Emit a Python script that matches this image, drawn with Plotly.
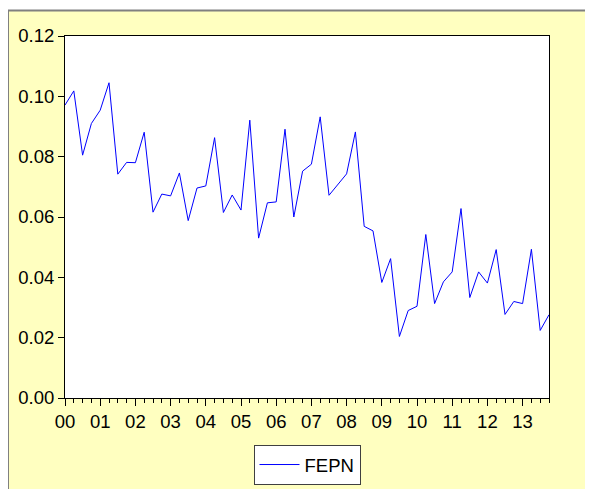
import plotly.graph_objects as go

years = list(range(2000, 2014))
quarters = [f"{y}Q{q}" for y in years for q in range(1, 5)]
year_labels = [f"{y % 100:02d}" for y in years]

fepn = [0.0971, 0.1018, 0.0805, 0.0910, 0.0954, 0.1045, 0.0742, 0.0781,
        0.0780, 0.0881, 0.0616, 0.0676, 0.0670, 0.0746, 0.0588, 0.0696,
        0.0703, 0.0863, 0.0615, 0.0673, 0.0623, 0.0921, 0.0530, 0.0647,
        0.0650, 0.0891, 0.0600, 0.0752, 0.0775, 0.0932, 0.0672, 0.0709,
        0.0743, 0.0882, 0.0569, 0.0554, 0.0383, 0.0462, 0.0204, 0.0290,
        0.0304, 0.0542, 0.0313, 0.0385, 0.0418, 0.0628, 0.0333, 0.0418,
        0.0381, 0.0492, 0.0277, 0.0320, 0.0313, 0.0493, 0.0224, 0.0276]

y_ticks = [0.00, 0.02, 0.04, 0.06, 0.08, 0.10, 0.12]

xpos = list(range(len(quarters)))
year_pos = [4 * i for i in range(len(years))]

# page has an 8px body margin; figure coordinates are page - 8
W, H = 585, 481
L, R, T, B = 57, 44, 28, 91
pw, ph = W - L - R, H - T - B

def px_x(p):
    return (p - L) / pw

def px_y(p):
    return (H - B - p) / ph

fig = go.Figure()
fig.add_trace(go.Scatter(
    x=xpos, y=fepn, mode="lines", name="FEPN",
    line=dict(color="#0000ff", width=1),
    customdata=quarters,
))

font = dict(family="Liberation Sans, Arial, sans-serif", size=18.5, color="#000000")

fig.update_layout(
    width=W, height=H,
    margin=dict(l=L, r=R, t=T, b=B, pad=0, autoexpand=False),
    paper_bgcolor="#ffffc0",
    plot_bgcolor="#ffffff",
    font=font,
    showlegend=True,
    legend=dict(
        xref="container", yref="container",
        x=(307 - 8) / W, xanchor="center", y=1 - (445 - 8) / H, yanchor="top",
        bgcolor="#ffffff", bordercolor="#404040", borderwidth=1,
        font=font, orientation="h", itemwidth=40,
    ),
    xaxis=dict(
        range=[0, len(quarters) - 1],
        tickmode="array", tickvals=year_pos, ticktext=year_labels,
        ticks="outside", ticklen=7, tickwidth=1, tickcolor="#000000",
        minor=dict(ticks="outside", ticklen=4, tickwidth=1, tickcolor="#000000", dtick=1, tick0=0, showgrid=False),
        showgrid=False, zeroline=False,
        showline=True, linecolor="#000000", linewidth=1, mirror=True,
        tickfont=font,
    ),
    yaxis=dict(
        range=[0, 0.12],
        tickmode="array", tickvals=y_ticks, tickformat=".2f",
        ticks="outside", ticklen=6, tickwidth=1, tickcolor="#000000",
        showgrid=False, zeroline=False,
        showline=True, linecolor="#000000", linewidth=1, mirror=True,
        tickfont=font,
    ),
)

# white strip above the gray frame, and the gray frame lines
fig.add_shape(type="rect", xref="paper", yref="paper",
              x0=px_x(-5), x1=px_x(W + 5), y0=px_y(2), y1=px_y(-5),
              fillcolor="#ffffff", line=dict(width=0), layer="below")
fig.add_shape(type="line", xref="paper", yref="paper",
              x0=px_x(-1), x1=px_x(W + 5), y0=px_y(2.5), y1=px_y(2.5),
              line=dict(color="#808080", width=2))
fig.add_shape(type="line", xref="paper", yref="paper",
              x0=px_x(0), x1=px_x(0), y0=px_y(2), y1=px_y(H + 5),
              line=dict(color="#808080", width=2))

fig.write_html("out.html")
